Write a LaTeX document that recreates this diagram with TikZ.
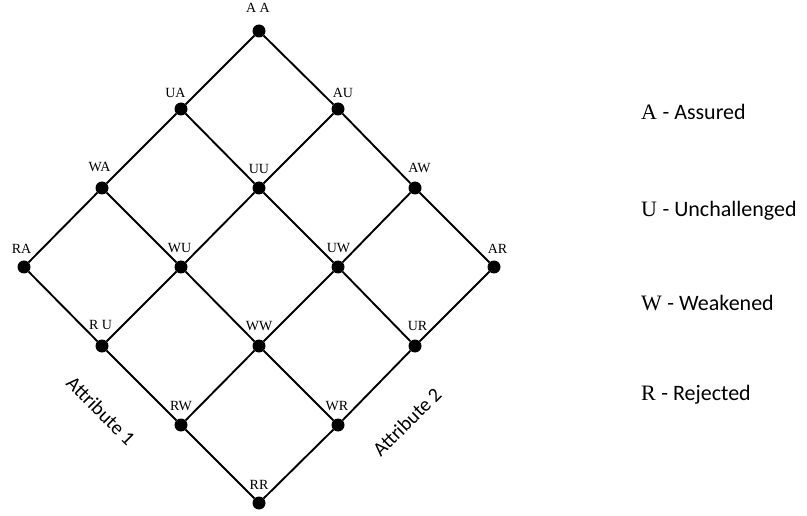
\documentclass[tikz,border=0pt]{standalone}
\usepackage{fontspec}
\setmainfont{Liberation Serif}
\newfontfamily\calib{Carlito}
\begin{document}
\begin{tikzpicture}[x=1pt,y=-1pt,
  dot/.style={circle,fill=black,inner sep=0pt,minimum size=13pt},
  lbl/.style={font=\fontsize{14}{15}\selectfont,inner sep=0pt,anchor=south},
  edge/.style={line width=1.9pt},
  legend/.style={anchor=base west,inner sep=0pt,font=\fontsize{22}{24}\selectfont},
  axis/.style={font=\calib\fontsize{20}{22}\selectfont,inner sep=0pt}]
\useasboundingbox (0,0) rectangle (807,516);
% lattice nodes
\node[dot] (AA) at (259,31) {};
\node[dot] (UA) at (181,109) {};
\node[dot] (AU) at (338,109) {};
\node[dot] (WA) at (102,188) {};
\node[dot] (UU) at (259,188) {};
\node[dot] (AW) at (415,188) {};
\node[dot] (RA) at (24,267) {};
\node[dot] (WU) at (181,267) {};
\node[dot] (UW) at (338,267) {};
\node[dot] (AR) at (494,267) {};
\node[dot] (RU) at (102,346) {};
\node[dot] (WW) at (259,346) {};
\node[dot] (UR) at (415,346) {};
\node[dot] (RW) at (181,425) {};
\node[dot] (WR) at (338,425) {};
\node[dot] (RR) at (259,503) {};
% edges
\draw[edge] (AA) -- (UA) -- (WA) -- (RA);
\draw[edge] (AU) -- (UU) -- (WU) -- (RU);
\draw[edge] (AW) -- (UW) -- (WW) -- (RW);
\draw[edge] (AR) -- (UR) -- (WR) -- (RR);
\draw[edge] (AA) -- (AU) -- (AW) -- (AR);
\draw[edge] (UA) -- (UU) -- (UW) -- (UR);
\draw[edge] (WA) -- (WU) -- (WW) -- (WR);
\draw[edge] (RA) -- (RU) -- (RW) -- (RR);
% labels
\node[lbl] (lAA) at ([shift={(-1,-18)}]AA) {A A};
\node[lbl] (lUA) at ([shift={(-5.5,-11)}]UA) {UA};
\node[lbl] (lAU) at ([shift={(5,-11)}]AU) {AU};
\node[lbl] (lWA) at ([shift={(-2.5,-16)}]WA) {WA};
\node[lbl] (lUU) at ([shift={(0,-14)}]UU) {UU};
\node[lbl] (lAW) at ([shift={(4.5,-15)}]AW) {AW};
\node[lbl] (lRA) at ([shift={(-2.5,-13)}]RA) {RA};
\node[lbl] (lWU) at ([shift={(-1.5,-14)}]WU) {WU};
\node[lbl] (lUW) at ([shift={(0.5,-14)}]UW) {UW};
\node[lbl] (lAR) at ([shift={(3.5,-13)}]AR) {AR};
\node[lbl] (lRU) at ([shift={(-1.5,-16)}]RU) {R U};
\node[lbl] (lWW) at ([shift={(0,-15)}]WW) {WW};
\node[lbl] (lUR) at ([shift={(2.5,-15)}]UR) {UR};
\node[lbl] (lRW) at ([shift={(0,-14)}]RW) {RW};
\node[lbl] (lWR) at ([shift={(-1,-14)}]WR) {WR};
\node[lbl] (lRR) at ([shift={(0,-13)}]RR) {RR};
% axis texts
\node[axis,rotate=-45] (ax1) at (101,411) {Attribute 1};
\node[axis,rotate=45] (ax2) at (407,422) {Attribute 2};
% legend
\node[legend] (la) at (641,120) {A {\calib - Assured}};
\node[legend] (lu) at (641,217) {U {\calib - Unchallenged}};
\node[legend] (lw) at (641,310) {W {\calib - Weakened}};
\node[legend] (lr) at (641,400) {R {\calib - Rejected}};
\end{tikzpicture}
\end{document}
